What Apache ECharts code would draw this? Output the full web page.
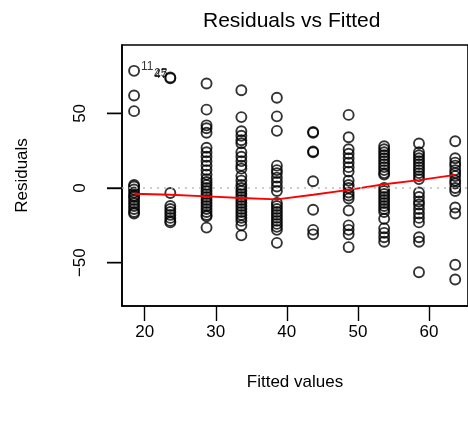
<!DOCTYPE html>
<html>
<head>
<meta charset="utf-8">
<script src="https://cdn.jsdelivr.net/npm/echarts@6/dist/echarts.min.js"></script>
<style>
  html, body { margin: 0; padding: 0; background: #fff; }
  #chart { width: 468px; height: 423px; }
</style>
</head>
<body>
<div id="chart"></div>
<script>
// fitted value of each group (x position of each column of points)
const fitted = [18.5, 23.6, 28.7, 33.6, 38.6, 43.7, 48.7, 53.7, 58.6, 63.7]
// residuals, one array per fitted group
const residuals = [
  [78.5, 62, 51.5, 2, 1, -1, -3, -5, -6, -8, -10, -12, -14, -16, -17],
  [74, 73.5, -3.3, -12, -14, -16, -18, -20, -22, -23],
  [70, 52.5, 42, 40, 37, 27, 24, 21, 18, 15, 12, 9, 6, 4, 2, 0, -2, -4, -6, -8, -10, -12, -14, -16, -18, -19, -26.5],
  [65.5, 47.5, 38, 35, 32, 30, 24, 21, 18, 15, 13, 8, 5, 2, 0, -2, -4, -6, -8, -10, -12, -14, -16, -18, -20, -22, -25, -31.7],
  [60.5, 48, 38.3, 15, 12, 10, 7, 4, 1, -2, -10, -12, -14, -16, -18, -20, -22, -24, -26, -28, -36.7],
  [37, 37.5, 24, 24.5, 4.5, -14.5, -28, -31],
  [49, 34, 26, 23, 20, 17, 14, 11, 5, 2, 0, -3, -5, -7, -15, -25, -28, -31, -39.6],
  [28, 26, 24, 22, 20, 18, 16, 14, 12, 10, 9, 0, -2, -4, -6, -8, -10, -12, -14, -16, -20.6, -27, -30, -33, -36],
  [29.8, 24, 22, 20, 18, 16, 14, 12, 10, 8, 6, -3, -6, -9, -11, -14, -17, -20, -23, -33, -36, -56.4],
  [31.3, 20, 17, 15, 12, 10, 8, 5, 3, 0, -2, -13, -17, -51.4, -61.3]
]
// lowess smoother, one value per fitted group
const smooth = [-3.8, -4.5, -5.6, -6.7, -7.6, -4.5, -1.2, 2.5, 5.3, 8.8]
// labelled outliers: [group, residual, label, side]
const outliers = [
  [0, 78.5, '11', 'right'],
  [1, 74, '25', 'left'],
  [1, 73.5, '47', 'left']
]
const xTicks = [20, 30, 40, 50, 60]
const yTicks = [-50, 0, 50]
const xMin = 16.8
const xMax = 65.5

const points = []
residuals.forEach((col, i) => {
  col.forEach(r => points.push([fitted[i], r]))
})
const labelled = outliers.map(o => ({
  value: [fitted[o[0]], o[1]],
  label: { position: o[3], distance: o[3] === 'left' ? 3 : 7, offset: [0, -4] }
}))
const labelNames = outliers.map(o => o[2])

const font = 'Liberation Sans, Arial, sans-serif'
const minus = v => String(v).replace('-', '\u2212')
const boxLine = { show: true, onZero: false, lineStyle: { color: '#000', width: 1.6 } }

const chart = echarts.init(document.getElementById('chart'))
chart.setOption({
  animation: false,
  title: {
    text: 'Residuals vs Fitted',
    left: 198,
    top: 6,
    textStyle: { fontFamily: font, fontSize: 21, fontWeight: 'normal', color: '#000' }
  },
  grid: {
    left: 122,
    top: 45,
    right: -3,
    bottom: 117,
    show: true,
    borderColor: '#000',
    borderWidth: 1.6
  },
  xAxis: {
    type: 'value',
    min: xMin,
    max: xMax,
    name: 'Fitted values',
    nameLocation: 'middle',
    nameGap: 68,
    nameTextStyle: { fontFamily: font, fontSize: 17, color: '#000' },
    axisLine: boxLine,
    splitLine: { show: false },
    axisTick: { show: true, length: 15, customValues: xTicks, lineStyle: { color: '#000', width: 1.4 } },
    axisLabel: { customValues: xTicks, margin: 18, fontFamily: font, fontSize: 17, color: '#000' }
  },
  yAxis: {
    type: 'value',
    min: -79,
    max: 95.8,
    name: 'Residuals',
    nameLocation: 'middle',
    nameGap: 91,
    nameTextStyle: { fontFamily: font, fontSize: 17, color: '#000' },
    axisLine: boxLine,
    splitLine: { show: false },
    axisTick: { show: true, length: 15, customValues: yTicks, lineStyle: { color: '#000', width: 1.4 } },
    axisLabel: { customValues: yTicks, rotate: 90, margin: 33, formatter: minus, fontFamily: font, fontSize: 17, color: '#000' }
  },
  series: [
    {
      type: 'scatter',
      data: points,
      symbol: 'circle',
      symbolSize: 10,
      itemStyle: { color: 'rgba(0,0,0,0)', borderColor: '#000', borderWidth: 1.9 },
      markLine: {
        silent: true,
        symbol: 'none',
        label: { show: false },
        lineStyle: { color: '#bdbdbd', type: [2, 5], width: 1.5 },
        data: [{ yAxis: 0 }]
      }
    },
    {
      type: 'line',
      data: fitted.map((x, i) => [x, smooth[i]]),
      symbol: 'none',
      z: 3,
      lineStyle: { color: '#ff0000', width: 1.9 }
    },
    {
      type: 'scatter',
      data: labelled,
      symbolSize: 0,
      label: {
        show: true,
        formatter: p => labelNames[p.dataIndex],
        fontFamily: font,
        fontSize: 12,
        color: '#000'
      }
    }
  ]
})

// y-axis ticks outside the box, placed through the chart's own scale
chart.setOption({
  graphic: yTicks.map(v => {
    const p = chart.convertToPixel({ gridIndex: 0 }, [xMin, v])
    return {
      type: 'line',
      silent: true,
      z: 100,
      shape: { x1: p[0] - 15, y1: p[1], x2: p[0], y2: p[1] },
      style: { stroke: '#000', lineWidth: 1.4 }
    }
  })
})
</script>
</body>
</html>
